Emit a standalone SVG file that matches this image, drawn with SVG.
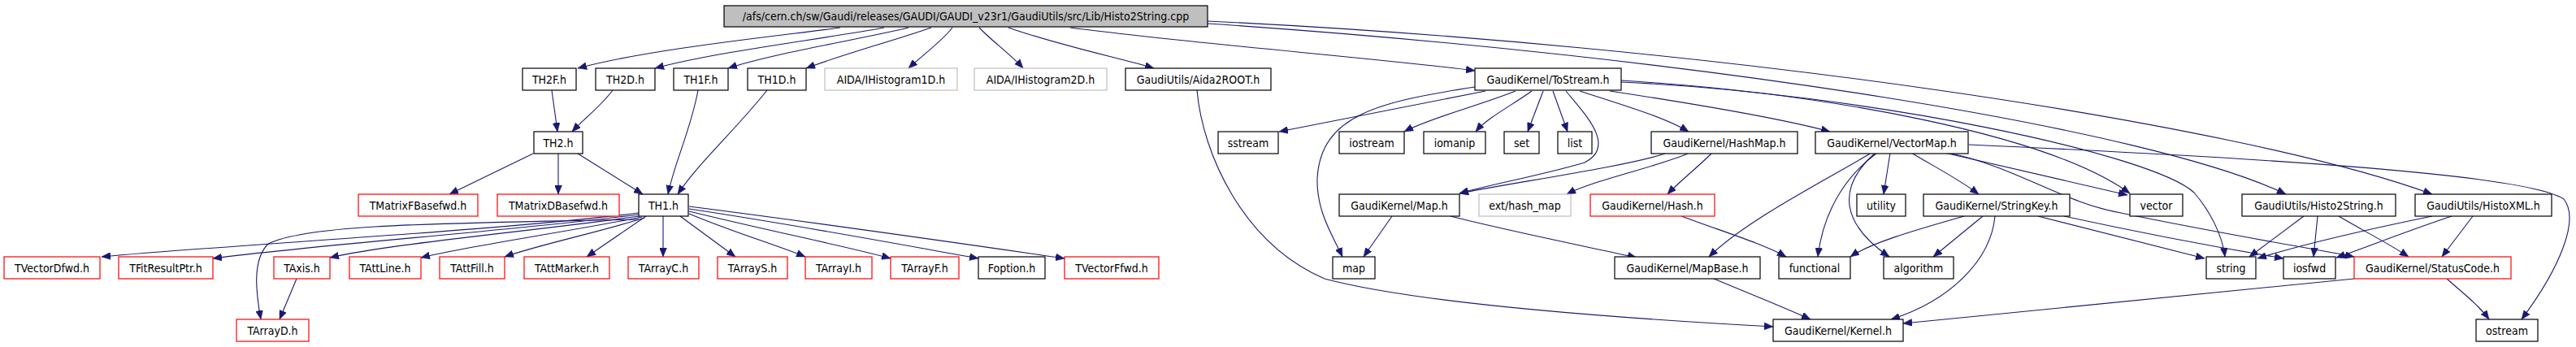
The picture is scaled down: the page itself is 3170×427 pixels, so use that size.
<svg xmlns="http://www.w3.org/2000/svg" width="3170" height="427" viewBox="0 0 3170 427">
<style>
.n rect{fill:#fff;stroke:#000;stroke-width:1.2}
.n.red rect{stroke:#ff0000}
.n.gry rect{stroke:#bfbfbf}
.n.root rect{fill:#bfbfbf}
.n text{font-family:"DejaVu Sans Condensed","DejaVu Sans",sans-serif;font-stretch:condensed;font-size:14px;fill:#000;text-anchor:middle}
#edges path{fill:none;stroke:#191970;stroke-width:1.1;marker-end:url(#ah)}
</style>
<defs>
<marker id="ah" markerUnits="userSpaceOnUse" markerWidth="12" markerHeight="9" refX="11" refY="4.5" orient="auto">
<path d="M0,0 L11,4.5 L0,9 z" fill="#191970" stroke="#191970" stroke-width="0.5"/>
</marker>
</defs>
<rect width="3170" height="427" fill="#fff"/>
<g id="edges">
<path d="M1034,34 C960,44 800,60 711,84"/>
<path d="M1088,34 C1000,50 880,64 806,84"/>
<path d="M1118,34 C1060,48 950,66 896,84"/>
<path d="M1146,34 C1100,50 1040,66 992,84"/>
<path d="M1172,34 C1160,50 1135,68 1118,84"/>
<path d="M1205,34 C1220,50 1245,68 1259,84"/>
<path d="M1241,34 C1300,55 1380,72 1420,84"/>
<path d="M1317,34 C1480,55 1700,72 1815,87"/>
<path d="M1486,29 C2100,70 2650,160 2813,239"/>
<path d="M1486,26 C2100,55 2750,150 2993,239"/>
<path d="M679,111 L686,162"/>
<path d="M754,111 C740,130 720,145 704,162"/>
<path d="M859,111 C850,160 830,200 822,239"/>
<path d="M944,111 C905,160 860,200 834,239"/>
<path d="M656,189 L553,239"/>
<path d="M687,189 L687,239"/>
<path d="M711,189 L791,239"/>
<path d="M786,262 C600,285 300,300 125,316"/>
<path d="M786,264 C620,285 400,300 262,318"/>
<path d="M787,266 C650,285 480,300 406,317"/>
<path d="M790,267 C700,285 580,302 518,317"/>
<path d="M793,268 C740,285 660,302 621,316"/>
<path d="M795,266 L722,316"/>
<path d="M816,266 L816,316"/>
<path d="M837,266 L905,316"/>
<path d="M848,263 C900,285 960,303 991,316"/>
<path d="M848,260 C950,285 1050,305 1096,318"/>
<path d="M848,257 C1000,280 1130,305 1204,318"/>
<path d="M848,254 C1050,280 1220,305 1310,318"/>
<path d="M786,270 C550,275 380,275 330,300 C310,320 315,360 321,393"/>
<path d="M365,343 L344,393"/>
<path d="M1473,111 C1480,190 1530,300 1630,343 C1750,375 2000,392 2182,402"/>
<path d="M1828,112 L1574,162"/>
<path d="M1865,112 C1820,130 1760,145 1728,162"/>
<path d="M1885,112 C1860,130 1830,145 1816,162"/>
<path d="M1899,112 L1880,162"/>
<path d="M1911,112 L1929,162"/>
<path d="M1944,112 C2000,130 2050,145 2078,162"/>
<path d="M1981,112 C2100,130 2200,148 2252,162"/>
<path d="M1815,107 C1700,125 1625,140 1621,220 C1620,260 1640,290 1652,316"/>
<path d="M1927,112 C1950,140 1990,180 1950,200 C1900,215 1830,228 1796,238"/>
<path d="M1995,99 C2250,115 2520,165 2621,238"/>
<path d="M1995,101 C2300,115 2650,190 2700,237 C2720,260 2735,290 2738,316"/>
<path d="M2049,189 C2000,205 1860,225 1796,238"/>
<path d="M2077,189 C2040,205 1960,222 1928,239"/>
<path d="M2106,189 C2090,205 2065,225 2052,239"/>
<path d="M1713,266 L1678,316"/>
<path d="M1785,266 C1860,285 1960,305 2014,317"/>
<path d="M2069,266 C2120,285 2170,300 2198,316"/>
<path d="M2303,188 C2250,220 2150,270 2103,316"/>
<path d="M2310,188 C2280,210 2245,250 2237,316"/>
<path d="M2308,188 C2260,230 2265,275 2325,316"/>
<path d="M2326,188 L2318,239"/>
<path d="M2352,188 C2380,205 2410,220 2435,239"/>
<path d="M2393,188 L2618,240"/>
<path d="M2397,188 C2480,205 2540,250 2610,262 C2720,285 2840,305 2897,316"/>
<path d="M2423,178 C2800,195 3110,215 3155,245 C3175,270 3150,330 3103,393"/>
<path d="M2417,266 C2350,285 2300,300 2277,316"/>
<path d="M2440,266 L2379,316"/>
<path d="M2455,266 C2450,320 2400,370 2327,393"/>
<path d="M2508,266 C2600,290 2660,305 2713,318"/>
<path d="M2540,266 C2650,290 2750,308 2810,318"/>
<path d="M2835,266 L2768,316"/>
<path d="M2852,266 L2847,316"/>
<path d="M2878,266 C2910,285 2940,300 2964,316"/>
<path d="M2993,266 C2900,285 2820,305 2778,318"/>
<path d="M3017,266 C2960,285 2910,305 2875,317"/>
<path d="M3043,266 L3005,316"/>
<path d="M2109,343 C2150,360 2200,380 2228,393"/>
<path d="M2897,343 L2342,398"/>
<path d="M3011,343 C3030,360 3050,375 3063,393"/>
</g>
<g id="n_root" class="n root"><rect x="891" y="7" width="595" height="26"/><text x="1188.5" y="25">/afs/cern.ch/sw/Gaudi/releases/GAUDI/GAUDI_v23r1/GaudiUtils/src/Lib/Histo2String.cpp</text></g>
<g id="n_th2f" class="n"><rect x="643" y="84" width="66" height="27"/><text x="676" y="102.5">TH2F.h</text></g>
<g id="n_th2d" class="n"><rect x="733" y="84" width="73" height="27"/><text x="769.5" y="102.5">TH2D.h</text></g>
<g id="n_th1f" class="n"><rect x="829" y="84" width="67" height="27"/><text x="862.5" y="102.5">TH1F.h</text></g>
<g id="n_th1d" class="n"><rect x="920" y="84" width="72" height="27"/><text x="956" y="102.5">TH1D.h</text></g>
<g id="n_ih1d" class="n gry"><rect x="1015" y="84" width="163" height="27"/><text x="1096.5" y="102.5">AIDA/IHistogram1D.h</text></g>
<g id="n_ih2d" class="n gry"><rect x="1199" y="84" width="163" height="27"/><text x="1280.5" y="102.5">AIDA/IHistogram2D.h</text></g>
<g id="n_aida2root" class="n"><rect x="1385" y="84" width="179" height="27"/><text x="1474.5" y="102.5">GaudiUtils/Aida2ROOT.h</text></g>
<g id="n_tostream" class="n"><rect x="1815" y="84" width="180" height="27"/><text x="1905" y="102.5">GaudiKernel/ToStream.h</text></g>
<g id="n_th2" class="n"><rect x="657" y="162" width="60" height="27"/><text x="687" y="180.5">TH2.h</text></g>
<g id="n_sstream" class="n"><rect x="1499" y="162" width="74" height="27"/><text x="1536" y="180.5">sstream</text></g>
<g id="n_iostream" class="n"><rect x="1648" y="162" width="80" height="27"/><text x="1688" y="180.5">iostream</text></g>
<g id="n_iomanip" class="n"><rect x="1752" y="162" width="76" height="27"/><text x="1790" y="180.5">iomanip</text></g>
<g id="n_set" class="n"><rect x="1851" y="162" width="43" height="27"/><text x="1872.5" y="180.5">set</text></g>
<g id="n_list" class="n"><rect x="1917" y="162" width="42" height="27"/><text x="1938" y="180.5">list</text></g>
<g id="n_hashmap" class="n"><rect x="2032" y="162" width="180" height="27"/><text x="2122" y="180.5">GaudiKernel/HashMap.h</text></g>
<g id="n_vectormap" class="n"><rect x="2234" y="162" width="188" height="27"/><text x="2328" y="180.5">GaudiKernel/VectorMap.h</text></g>
<g id="n_tmatrixf" class="n red"><rect x="441" y="239" width="147" height="27"/><text x="514.5" y="257.5">TMatrixFBasefwd.h</text></g>
<g id="n_tmatrixd" class="n red"><rect x="612" y="239" width="150" height="27"/><text x="687" y="257.5">TMatrixDBasefwd.h</text></g>
<g id="n_th1" class="n"><rect x="786" y="239" width="61" height="27"/><text x="816.5" y="257.5">TH1.h</text></g>
<g id="n_maph" class="n"><rect x="1648" y="239" width="148" height="27"/><text x="1722" y="257.5">GaudiKernel/Map.h</text></g>
<g id="n_exthashmap" class="n gry"><rect x="1820" y="239" width="113" height="27"/><text x="1876.5" y="257.5">ext/hash_map</text></g>
<g id="n_hash" class="n red"><rect x="1957" y="239" width="153" height="27"/><text x="2033.5" y="257.5">GaudiKernel/Hash.h</text></g>
<g id="n_utility" class="n"><rect x="2285" y="239" width="60" height="27"/><text x="2315" y="257.5">utility</text></g>
<g id="n_stringkey" class="n"><rect x="2367" y="239" width="180" height="27"/><text x="2457" y="257.5">GaudiKernel/StringKey.h</text></g>
<g id="n_vector" class="n"><rect x="2621" y="239" width="65" height="27"/><text x="2653.5" y="257.5">vector</text></g>
<g id="n_histo2string" class="n"><rect x="2759" y="239" width="189" height="27"/><text x="2853.5" y="257.5">GaudiUtils/Histo2String.h</text></g>
<g id="n_histoxml" class="n"><rect x="2972" y="239" width="168" height="27"/><text x="3056" y="257.5">GaudiUtils/HistoXML.h</text></g>
<g id="n_tvectordfwd" class="n red"><rect x="5" y="316" width="118" height="27"/><text x="64" y="334.5">TVectorDfwd.h</text></g>
<g id="n_tfitresultptr" class="n red"><rect x="146" y="316" width="116" height="27"/><text x="204" y="334.5">TFitResultPtr.h</text></g>
<g id="n_taxis" class="n red"><rect x="337" y="316" width="69" height="27"/><text x="371.5" y="334.5">TAxis.h</text></g>
<g id="n_tattline" class="n red"><rect x="430" y="316" width="88" height="27"/><text x="474" y="334.5">TAttLine.h</text></g>
<g id="n_tattfill" class="n red"><rect x="541" y="316" width="80" height="27"/><text x="581" y="334.5">TAttFill.h</text></g>
<g id="n_tattmarker" class="n red"><rect x="645" y="316" width="105" height="27"/><text x="697.5" y="334.5">TAttMarker.h</text></g>
<g id="n_tarrayc" class="n red"><rect x="773" y="316" width="87" height="27"/><text x="816.5" y="334.5">TArrayC.h</text></g>
<g id="n_tarrays" class="n red"><rect x="883" y="316" width="86" height="27"/><text x="926" y="334.5">TArrayS.h</text></g>
<g id="n_tarrayi" class="n red"><rect x="991" y="316" width="82" height="27"/><text x="1032" y="334.5">TArrayI.h</text></g>
<g id="n_tarrayf" class="n red"><rect x="1096" y="316" width="84" height="27"/><text x="1138" y="334.5">TArrayF.h</text></g>
<g id="n_foption" class="n"><rect x="1204" y="316" width="82" height="27"/><text x="1245" y="334.5">Foption.h</text></g>
<g id="n_tvectorffwd" class="n red"><rect x="1310" y="316" width="116" height="27"/><text x="1368" y="334.5">TVectorFfwd.h</text></g>
<g id="n_map" class="n"><rect x="1640" y="316" width="52" height="27"/><text x="1666" y="334.5">map</text></g>
<g id="n_mapbase" class="n"><rect x="1987" y="316" width="179" height="27"/><text x="2076.5" y="334.5">GaudiKernel/MapBase.h</text></g>
<g id="n_functional" class="n"><rect x="2189" y="316" width="88" height="27"/><text x="2233" y="334.5">functional</text></g>
<g id="n_algorithm" class="n"><rect x="2318" y="316" width="86" height="27"/><text x="2361" y="334.5">algorithm</text></g>
<g id="n_string" class="n"><rect x="2715" y="316" width="61" height="27"/><text x="2745.5" y="334.5">string</text></g>
<g id="n_iosfwd" class="n"><rect x="2810" y="316" width="64" height="27"/><text x="2842" y="334.5">iosfwd</text></g>
<g id="n_statuscode" class="n red"><rect x="2897" y="316" width="193" height="27"/><text x="2993.5" y="334.5">GaudiKernel/StatusCode.h</text></g>
<g id="n_tarrayd" class="n red"><rect x="291" y="393" width="89" height="27"/><text x="335.5" y="411.5">TArrayD.h</text></g>
<g id="n_kernel" class="n"><rect x="2182" y="393" width="160" height="27"/><text x="2262" y="411.5">GaudiKernel/Kernel.h</text></g>
<g id="n_ostream" class="n"><rect x="3047" y="393" width="76" height="27"/><text x="3085" y="411.5">ostream</text></g>
</svg>
